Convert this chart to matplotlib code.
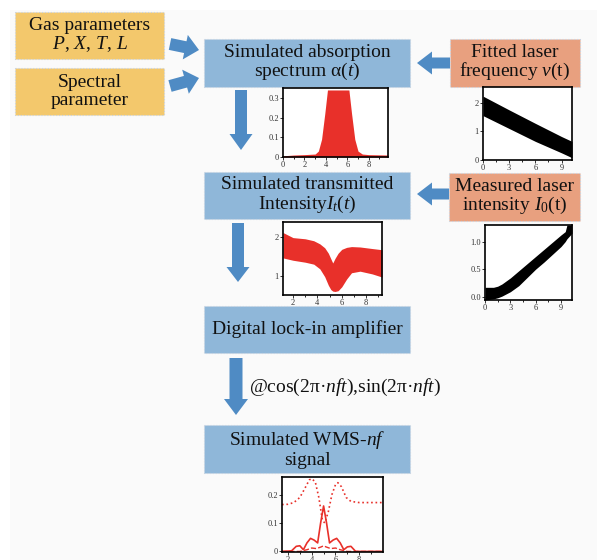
import numpy as np
import matplotlib
matplotlib.use("Agg")
import matplotlib.pyplot as plt
from matplotlib.patches import Rectangle, FancyArrow

plt.rcParams["font.family"] = ["Liberation Serif", "DejaVu Serif"]
plt.rcParams["mathtext.fontset"] = "custom"
plt.rcParams["mathtext.rm"] = "Liberation Serif"
plt.rcParams["mathtext.it"] = "Liberation Serif:italic"

W, H = 597, 560
RED = "#e8302a"
BLUE_BOX = "#8fb7d9"
YEL_BOX = "#f3c86c"
SAL_BOX = "#e8a07f"
ARROW = "#4f8bc4"

# ── inset data ───────────────────────────────────────────────────────────────
abs_x = [0, 1, 2, 3, 3.3, 3.6, 3.9, 4.15, 6.15, 6.4, 6.7, 7.0, 7.4, 8, 9.8]
abs_hi = [0.006, 0.01, 0.012, 0.015, 0.03, 0.09, 0.22, 0.34, 0.34, 0.22, 0.09, 0.03, 0.015, 0.012, 0.01]
abs_lo = [0, 0, 0, 0, 0, 0, 0, 0, 0, 0, 0, 0, 0, 0, 0]

freq_x = [0, 3, 6, 9, 10.2]
freq_hi = [2.23, 1.75, 1.28, 0.82, 0.65]
freq_lo = [1.55, 1.10, 0.65, 0.25, 0.08]

tr_x = [1.18, 2, 3, 3.7, 4.2, 4.6, 4.9, 5.1, 5.26, 5.45, 5.7, 6.0, 6.4, 6.8, 7.5, 8.5, 9.3]
tr_hi = [2.11, 1.98, 1.95, 1.90, 1.82, 1.72, 1.58, 1.44, 1.33, 1.45, 1.58, 1.68, 1.73, 1.75, 1.74, 1.70, 1.67]
tr_lo = [1.46, 1.40, 1.35, 1.30, 1.18, 0.98, 0.76, 0.65, 0.61, 0.60, 0.62, 0.72, 0.92, 1.08, 1.12, 1.05, 0.97]

i0_x = [0, 0.5, 1, 1.5, 2, 3, 4, 5, 6, 7, 8, 9, 9.5, 9.7, 10.3]
i0_hi = [0.17, 0.17, 0.17, 0.19, 0.23, 0.34, 0.47, 0.60, 0.73, 0.86, 0.99, 1.12, 1.18, 1.30, 1.30]
i0_lo = [-0.06, -0.05, -0.04, -0.02, 0.01, 0.09, 0.20, 0.35, 0.50, 0.63, 0.77, 0.91, 1.00, 1.05, 1.15]

wms_x1 = [1.5, 2.0, 2.5, 3.0, 3.4, 3.8, 4.0, 4.3, 4.6, 4.9, 5.1, 5.4, 5.7, 6.0, 6.2, 6.5, 6.9, 7.3, 8, 9, 10]
wms_1f = [0.165, 0.166, 0.172, 0.19, 0.22, 0.252, 0.256, 0.245, 0.19, 0.11, 0.10, 0.14, 0.20, 0.235, 0.242, 0.228, 0.19, 0.176, 0.172, 0.172, 0.172]
wms_x2 = [1.5, 2.3, 2.7, 3.0, 3.3, 3.6, 3.9, 4.2, 4.5, 4.75, 5.0, 5.25, 5.5, 5.8, 6.1, 6.4, 6.7, 7.0, 7.3, 7.7, 10]
wms_2f = [0.0, 0.002, 0.018, 0.02, 0.006, 0.03, 0.046, 0.04, 0.03, 0.10, 0.16, 0.10, 0.03, 0.04, 0.046, 0.03, 0.006, 0.016, 0.018, 0.0, 0.0]
wms_x3 = [1.5, 3.0, 3.6, 4.0, 4.4, 4.8, 5.0, 5.2, 5.6, 6.0, 6.4, 7.0, 10]
wms_3f = [0.0, 0.0, 0.006, 0.012, 0.01, 0.016, 0.02, 0.016, 0.01, 0.012, 0.006, 0.0, 0.0]

fig = plt.figure(figsize=(W / 100, H / 100), dpi=100)
ax = fig.add_axes([0, 0, 1, 1])
ax.set_xlim(0, W)
ax.set_ylim(H, 0)
ax.axis("off")

ax.add_patch(Rectangle((10, 10), W - 10, H - 10, facecolor="#fafafa", edgecolor="none"))


def box(x0, y0, x1, y1, color, text):
    ax.add_patch(Rectangle((x0, y0), x1 - x0, y1 - y0, facecolor=color,
                           edgecolor="#c8d3e0", linewidth=0.8, linestyle=":"))
    ax.text((x0 + x1) / 2, (y0 + y1) / 2, text, ha="center", va="center",
            fontsize=14, color="#111111", linespacing=1.05)


box(15, 12, 164, 59, YEL_BOX, "Gas parameters\n$P$, $X$, $T$, $L$")
box(15, 68, 164, 115, YEL_BOX, "Spectral\nparameter")
box(204, 39, 410, 87, BLUE_BOX, "Simulated absorption\nspectrum α($t$)")
box(450, 39, 580, 87, SAL_BOX, "Fitted laser\nfrequency $v$(t)")
box(204, 172, 410, 219, BLUE_BOX, "Simulated transmitted\nIntensity$I_t$($t$)")
box(449, 173, 580, 221, SAL_BOX, "Measured laser\nintensity $I_0$(t)")
box(204, 306, 410, 353, BLUE_BOX, "Digital lock-in amplifier")
box(204, 425, 410, 473, BLUE_BOX, "Simulated WMS-$nf$\nsignal")

ax.text(249, 387, "@cos(2π·$nft$),sin(2π·$nft$)", ha="left", va="center",
        fontsize=14, color="#111111")


def arrow(x0, y0, x1, y1, w=12, hw=25, hl=14):
    ax.add_patch(FancyArrow(x0, y0, x1 - x0, y1 - y0, width=w, head_width=hw,
                            head_length=hl, length_includes_head=True,
                            facecolor=ARROW, edgecolor="none"))


arrow(170, 44, 199, 50)
arrow(170, 86, 199, 78)
arrow(450, 63, 417, 63, w=11, hw=23, hl=15)
arrow(449, 194, 417, 194, w=11, hw=23, hl=15)
arrow(241, 90, 241, 150, w=12, hw=23, hl=16)
arrow(238, 223, 238, 282, w=12, hw=23, hl=15)
arrow(236, 358, 236, 415, w=13, hw=24, hl=16)


def inset(x0, y0, x1, y1):
    a = fig.add_axes([x0 / W, 1 - y1 / H, (x1 - x0) / W, (y1 - y0) / H])
    a.set_facecolor("white")
    for s in a.spines.values():
        s.set_linewidth(1.2)
    a.tick_params(labelsize=6, length=2, width=0.7, pad=1, colors="#333333")
    a.tick_params(which="minor", length=1.2, width=0.6)
    return a


a1 = inset(283, 88, 388, 157)
a1.fill_between(abs_x, abs_lo, abs_hi, color=RED, linewidth=0)
a1.set_xlim(0, 9.8)
a1.set_ylim(0, 0.35)
a1.set_xticks([0, 2, 4, 6, 8])
a1.set_yticks([0, 0.1, 0.2, 0.3])
a1.set_yticklabels(["0", "0.1", "0.2", "0.3"])
a1.set_xticks([1, 3, 5, 7, 9], minor=True)

a2 = inset(483, 87, 572, 160)
a2.fill_between(freq_x, freq_lo, freq_hi, color="black", linewidth=0)
a2.set_xlim(0, 10.2)
a2.set_ylim(0, 2.55)
a2.set_xticks([0, 3, 6, 9])
a2.set_yticks([0, 1, 2])
a2.set_xticks([1.5, 4.5, 7.5], minor=True)

a3 = inset(283, 222, 382, 295)
a3.fill_between(tr_x, tr_lo, tr_hi, color=RED, linewidth=0)
a3.set_xlim(1.18, 9.3)
a3.set_ylim(0.51, 2.38)
a3.set_xticks([2, 4, 6, 8])
a3.set_yticks([1, 2])
a3.set_xticks([3, 5, 7, 9], minor=True)

a4 = inset(485, 225, 572, 300)
a4.fill_between(i0_x, i0_lo, i0_hi, color="black", linewidth=0)
a4.set_xlim(0, 10.3)
a4.set_ylim(-0.06, 1.30)
a4.set_xticks([0, 3, 6, 9])
a4.set_yticks([0, 0.5, 1.0])
a4.set_yticklabels(["0.0", "0.5", "1.0"])
a4.set_xticks([1.5, 4.5, 7.5], minor=True)

a5 = inset(282, 477, 383, 552)
a5.plot(wms_x1, wms_1f, color=RED, linestyle=":", linewidth=1.2)
a5.plot(wms_x2, wms_2f, color=RED, linestyle="-", linewidth=1.2)
a5.plot(wms_x3, wms_3f, color=RED, linestyle="--", linewidth=1.0)
a5.set_xlim(1.5, 10)
a5.set_ylim(-0.002, 0.262)
a5.set_xticks([2, 4, 6, 8])
a5.set_yticks([0, 0.1, 0.2])
a5.set_yticklabels(["0", "0.1", "0.2"])
a5.set_xticks([3, 5, 7, 9], minor=True)

fig.savefig("out.png", dpi=100)
